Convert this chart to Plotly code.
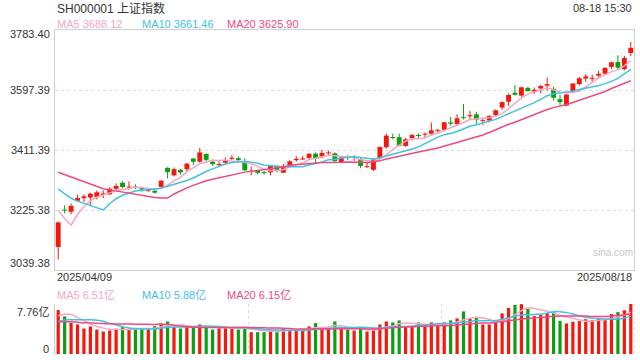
import plotly.graph_objects as go
import pandas as pd

# ---------------- data ----------------
dates = ["2025-04-09","2025-04-10","2025-04-11","2025-04-14","2025-04-15","2025-04-16","2025-04-17","2025-04-18","2025-04-21","2025-04-22","2025-04-23","2025-04-24","2025-04-25","2025-04-28","2025-04-29","2025-04-30",
         "2025-05-06","2025-05-07","2025-05-08","2025-05-09","2025-05-12","2025-05-13","2025-05-14","2025-05-15","2025-05-16","2025-05-19","2025-05-20","2025-05-21","2025-05-22","2025-05-23","2025-05-26","2025-05-27","2025-05-28","2025-05-29","2025-05-30",
         "2025-06-03","2025-06-04","2025-06-05","2025-06-06","2025-06-09","2025-06-10","2025-06-11","2025-06-12","2025-06-13","2025-06-16","2025-06-17","2025-06-18","2025-06-19","2025-06-20","2025-06-23","2025-06-24","2025-06-25","2025-06-26","2025-06-27","2025-06-30",
         "2025-07-01","2025-07-02","2025-07-03","2025-07-04","2025-07-07","2025-07-08","2025-07-09","2025-07-10","2025-07-11","2025-07-14","2025-07-15","2025-07-16","2025-07-17","2025-07-18","2025-07-21","2025-07-22","2025-07-23","2025-07-24","2025-07-25","2025-07-28","2025-07-29","2025-07-30","2025-07-31",
         "2025-08-01","2025-08-04","2025-08-05","2025-08-06","2025-08-07","2025-08-08","2025-08-11","2025-08-12","2025-08-13","2025-08-14","2025-08-15","2025-08-18"]

opens = [3111, 3226, 3220, 3254, 3262, 3264, 3265, 3272, 3274, 3291, 3310, 3295, 3297, 3293, 3285, 3285,
         3297, 3356, 3333, 3350, 3352, 3385, 3375, 3399, 3375, 3365, 3372, 3384, 3386, 3376, 3344, 3347, 3342, 3342, 3362,
         3341, 3365, 3380, 3382, 3387, 3400, 3389, 3401, 3401, 3374, 3389, 3387, 3383, 3358, 3350, 3386, 3420, 3451, 3451, 3424,
         3448, 3457, 3459, 3462, 3471, 3474, 3497, 3492, 3513, 3516, 3522, 3501, 3503, 3520, 3543, 3561, 3589, 3580, 3604, 3593, 3602, 3611, 3601,
         3569, 3549, 3592, 3616, 3633, 3632, 3642, 3648, 3669, 3684, 3662, 3712]
highs = [3190, 3240, 3245, 3273, 3274, 3279, 3286, 3286, 3296, 3308, 3315, 3314, 3305, 3298, 3292, 3290,
         3318, 3358, 3357, 3352, 3370, 3387, 3418, 3401, 3382, 3378, 3388, 3395, 3391, 3386, 3360, 3351, 3346, 3366, 3365,
         3368, 3380, 3392, 3393, 3401, 3404, 3412, 3410, 3404, 3393, 3396, 3395, 3387, 3372, 3384, 3423, 3462, 3462, 3462, 3449,
         3462, 3462, 3465, 3497, 3477, 3498, 3514, 3522, 3554, 3533, 3530, 3512, 3519, 3537, 3562, 3587, 3613, 3608, 3607, 3605, 3613, 3636, 3607,
         3582, 3585, 3618, 3638, 3647, 3645, 3657, 3668, 3685, 3705, 3703, 3746]
lows = [3072, 3215, 3212, 3250, 3250, 3240, 3258, 3262, 3272, 3288, 3293, 3289, 3290, 3282, 3281, 3276,
        3295, 3323, 3329, 3335, 3345, 3365, 3372, 3376, 3362, 3360, 3367, 3380, 3377, 3347, 3333, 3336, 3335, 3333, 3342,
        3340, 3362, 3375, 3380, 3383, 3370, 3386, 3393, 3372, 3372, 3380, 3378, 3355, 3356, 3346, 3384, 3416, 3445, 3423, 3421,
        3441, 3447, 3451, 3457, 3463, 3469, 3487, 3489, 3506, 3505, 3493, 3490, 3497, 3515, 3536, 3548, 3580, 3576, 3593, 3585, 3587, 3595, 3564,
        3551, 3547, 3587, 3612, 3623, 3623, 3633, 3645, 3663, 3660, 3658, 3703]
closes = [3186.81, 3223.64, 3238.23, 3262.81, 3267.66, 3276.00, 3280.34, 3276.73, 3291.43, 3299.76, 3296.36, 3297.29, 3295.06, 3288.41, 3286.65, 3279.03,
          3316.11, 3342.67, 3352.00, 3342.00, 3369.24, 3374.87, 3403.95, 3380.82, 3367.46, 3367.58, 3380.48, 3387.57, 3380.19, 3348.37, 3346.84, 3340.69, 3339.93, 3363.45, 3347.49,
          3361.98, 3376.20, 3384.10, 3385.36, 3399.77, 3384.82, 3402.32, 3402.66, 3377.00, 3388.73, 3387.40, 3388.81, 3362.11, 3359.90, 3381.58, 3420.57, 3455.97, 3448.45, 3424.23, 3444.43,
          3457.75, 3454.79, 3461.15, 3472.32, 3473.13, 3497.48, 3493.05, 3509.68, 3510.18, 3519.65, 3505.00, 3503.78, 3516.83, 3534.48, 3559.79, 3581.86, 3582.30, 3605.73, 3593.66, 3597.94, 3609.71, 3615.72, 3573.21,
          3559.95, 3583.31, 3617.60, 3633.99, 3639.67, 3635.13, 3647.55, 3665.92, 3683.46, 3666.44, 3696.77, 3728.03]
# volume, 亿
volumes = [6.82, 5.83, 4.84, 4.58, 3.96, 4.27, 3.80, 3.49, 3.65, 3.91, 4.17, 3.80, 3.96, 3.96, 3.91, 4.32,
           4.74, 5.05, 4.17, 3.96, 4.22, 4.17, 4.58, 4.17, 3.80, 3.96, 4.01, 4.11, 3.80, 4.01, 3.39, 3.39, 3.39, 3.59, 3.59,
           3.96, 3.65, 3.70, 3.90, 4.27, 4.79, 4.06, 3.96, 5.05, 3.96, 3.80, 3.65, 4.06, 3.49, 3.70, 4.58, 5.05, 4.90, 5.21, 4.32,
           4.32, 4.90, 4.32, 4.90, 4.32, 4.90, 5.21, 5.52, 6.61, 5.52, 5.68, 4.58, 4.58, 4.90, 6.30, 7.15, 7.62, 7.74, 7.00, 5.90, 6.05, 6.35, 6.50,
           5.15, 4.74, 5.00, 5.10, 5.40, 5.25, 5.50, 5.30, 6.20, 6.50, 6.79, 7.76]

# sessions before the window (needed by the moving averages at the left edge)
prior_closes = [3371.92, 3358.73, 3419.56, 3426.43, 3429.76, 3426.43, 3408.95, 3364.83, 3370.03, 3369.98,
                3368.70, 3373.75, 3351.31, 3335.75, 3348.44, 3350.13, 3342.01, 3096.58, 3145.55]
prior_volumes = [5.5, 5.2, 6.0, 5.4, 4.9, 4.8, 4.6, 4.3, 4.2, 4.1,
                 4.2, 4.4, 4.3, 4.2, 4.4, 4.5, 5.0, 7.0, 6.17]

price_ticks = [3039.38, 3225.38, 3411.39, 3597.39, 3783.40]
price_tick_text = ["3039.38", "3225.38", "3411.39", "3597.39", "3783.40"]
vol_ticks = [0, 7.76]
vol_tick_text = ["0", "7.76亿"]
ma_periods = [5, 10, 20]
price_ma_labels = ["MA5 3688.12", "MA10 3661.46", "MA20 3625.90"]
vol_ma_labels = ["MA5 6.51亿", "MA10 5.88亿", "MA20 6.15亿"]
title_text = "SH000001 上证指数"
time_text = "08-18 15:30"

# ---------------- styling ----------------
RED = "#f2190f"
GREEN = "#0d9f12"
MA_COLORS = ["#f7a6c3", "#3fc2e3", "#ee4a80"]
FONT = "Liberation Sans, Arial, Noto Sans CJK SC, sans-serif"
TXT = "#333333"

n = len(closes)
assert all(len(a) == n for a in (dates, opens, highs, lows, volumes))
idx = list(range(n))
up = [c >= o for o, c in zip(opens, closes)]
cols = [RED if u else GREEN for u in up]

full_c = pd.Series(prior_closes + closes)
full_v = pd.Series(prior_volumes + volumes)
k = len(prior_closes)
price_ma = [full_c.rolling(p).mean().iloc[k:].tolist() for p in ma_periods]
vol_ma = [full_v.rolling(p).mean().iloc[k:].tolist() for p in ma_periods]

X0, X1 = 55 / 640, 634 / 640
fig = go.Figure()

# wicks
for flag, col in ((True, RED), (False, GREEN)):
    xs, ys = [], []
    for i in idx:
        if up[i] == flag:
            xs += [i, i, None]
            ys += [lows[i], highs[i], None]
    fig.add_trace(go.Scatter(x=xs, y=ys, mode="lines", line=dict(color=col, width=1),
                             hoverinfo="skip", xaxis="x", yaxis="y"))

# bodies
min_h = 3.0
bases = [min(o, c) for o, c in zip(opens, closes)]
heights = [max(abs(c - o), min_h) for o, c in zip(opens, closes)]
fig.add_trace(go.Bar(x=idx, y=heights, base=bases, width=0.76, marker=dict(color=cols, line=dict(width=0)),
                     hoverinfo="skip", xaxis="x", yaxis="y"))

# price MAs
for ma, col in zip(price_ma, MA_COLORS):
    fig.add_trace(go.Scatter(x=idx, y=ma, mode="lines", line=dict(color=col, width=1.5),
                             hoverinfo="skip", xaxis="x", yaxis="y"))

# volume
fig.add_trace(go.Bar(x=idx, y=volumes, width=0.5, marker=dict(color=cols, line=dict(width=0)),
                     hoverinfo="skip", xaxis="x2", yaxis="y2"))
for ma, col in zip(vol_ma, MA_COLORS):
    fig.add_trace(go.Scatter(x=idx, y=ma, mode="lines", line=dict(color=col, width=1.5, shape="spline"),
                             hoverinfo="skip", xaxis="x2", yaxis="y2"))

grid = "#dcdcdc"
border = "#d0d0d0"
fig.update_layout(
    width=640, height=360, margin=dict(l=0, r=0, t=0, b=0),
    paper_bgcolor="white", plot_bgcolor="white", showlegend=False, barmode="overlay",
    font=dict(family=FONT, size=11, color=TXT),
    xaxis=dict(domain=[X0, X1], range=[-0.5, n - 0.5], showgrid=False, showticklabels=False,
               zeroline=False, showline=True, linecolor=border, linewidth=1, mirror=True, fixedrange=True),
    yaxis=dict(domain=[1 - 270 / 360, 1 - 30 / 360], range=[price_ticks[0], price_ticks[-1]],
               tickvals=price_ticks, showticklabels=False, showgrid=True, gridcolor=grid, griddash="dot",
               gridwidth=1, zeroline=False, showline=True, linecolor=border, linewidth=1, mirror=True,
               ticks="", fixedrange=True),
    xaxis2=dict(domain=[X0, X1], range=[-0.5, n - 0.5], anchor="y2",
                tickvals=[-0.5 + n / 3, -0.5 + 2 * n / 3], showticklabels=False, showgrid=True,
                gridcolor=grid, griddash="dot", gridwidth=1, zeroline=False, showline=False, ticks="", fixedrange=True),
    yaxis2=dict(domain=[1 - 354 / 360, 1 - 304 / 360], range=[vol_ticks[0], vol_ticks[-1]], anchor="x2",
                tickvals=vol_ticks, showticklabels=False, showgrid=True, gridcolor=grid, griddash="dot",
                gridwidth=1, zeroline=False, showline=True, linecolor=border, linewidth=1, ticks="", fixedrange=True),
)

# volume right border (dotted)
fig.add_shape(type="line", xref="paper", yref="y2 domain", x0=X1, x1=X1, y0=0, y1=1,
              line=dict(color=grid, width=1, dash="dot"))

ann = []
# title & time
ann.append(dict(text=title_text, x=X0, y=1 - 8 / 360, xanchor="left", yanchor="middle",
                font=dict(size=12, color=TXT)))
ann.append(dict(text=time_text, x=X1, y=1 - 8 / 360, xanchor="right", yanchor="middle",
                font=dict(size=11, color=TXT)))
# MA legends
leg_x = [55, 140, 225]
for lab, col, lx in zip(price_ma_labels, MA_COLORS, leg_x):
    ann.append(dict(text=lab, x=lx / 640, y=1 - 24 / 360, xanchor="left", yanchor="middle",
                    font=dict(size=11, color=col)))
for lab, col, lx in zip(vol_ma_labels, MA_COLORS, leg_x):
    ann.append(dict(text=lab, x=lx / 640, y=1 - 295 / 360, xanchor="left", yanchor="middle",
                    font=dict(size=11, color=col)))
# price tick labels
for v, t in zip(price_ticks, price_tick_text):
    shift = 0
    if v == price_ticks[-1]:
        shift = -4
    elif v == price_ticks[0]:
        shift = 7
    ann.append(dict(text=t, xref="paper", yref="y", x=51.5 / 640, y=v, xanchor="right", yanchor="middle",
                    yshift=shift, font=dict(size=11, color=TXT)))
# volume tick labels
for v, t, sh in zip(vol_ticks, vol_tick_text, [5, -7.5]):
    ann.append(dict(text=t, xref="paper", yref="y2", x=50.5 / 640, y=v, xanchor="right", yanchor="middle",
                    yshift=sh, font=dict(size=11, color=TXT)))
# date labels
ann.append(dict(text=dates[0].replace("-", "/"), x=X0, y=1 - 277 / 360, xanchor="left", yanchor="middle",
                font=dict(size=11, color=TXT)))
ann.append(dict(text=dates[-1].replace("-", "/"), x=X1, y=1 - 277 / 360, xanchor="right", yanchor="middle",
                font=dict(size=11, color=TXT)))
# watermark
ann.append(dict(text="sina.com", x=(613) / 640, y=1 - 253 / 360, xanchor="center", yanchor="middle",
                font=dict(size=10, color="#c8c8c8")))

for a in ann:
    a.setdefault("xref", "paper")
    a.setdefault("yref", "paper")
    a["showarrow"] = False
fig.update_layout(annotations=ann)

fig.write_html("out.html", config={"displayModeBar": False, "staticPlot": True},
               post_script="document.body.style.margin='0px';document.body.style.overflow='hidden';")
